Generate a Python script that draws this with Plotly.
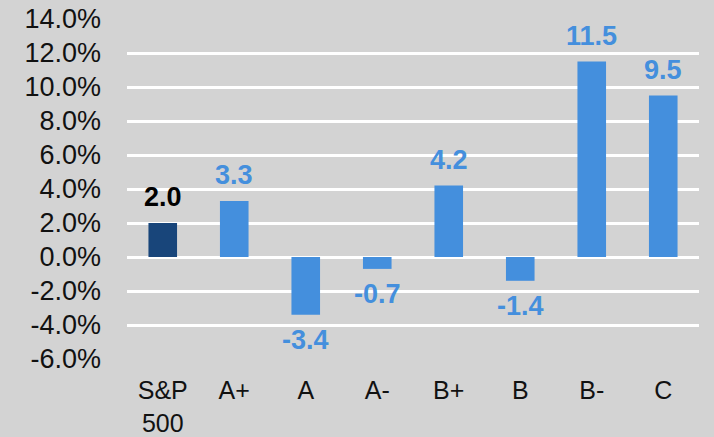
import plotly.graph_objects as go

categories = ["S&P<br>500", "A+", "A", "A-", "B+", "B", "B-", "C"]
values = [2.0, 3.3, -3.4, -0.7, 4.2, -1.4, 11.5, 9.5]
y_ticks = [-6, -4, -2, 0, 2, 4, 6, 8, 10, 12, 14]
y_tick_labels = [f"{v:.1f}%" for v in y_ticks]

DARK = "#18457a"
LIGHT = "#448fdd"
BG = "#d3d3d3"
FONT = "Liberation Sans, Arial, sans-serif"

colors = [DARK] + [LIGHT] * (len(values) - 1)
label_colors = ["#000000"] + [LIGHT] * (len(values) - 1)

fig = go.Figure()
fig.add_trace(go.Bar(
    x=categories, y=values, marker=dict(color=colors, line=dict(width=0)),
    hoverinfo="skip",
))

annotations = []
for c, v, col in zip(categories, values, label_colors):
    annotations.append(dict(
        x=c, y=v, xref="x", yref="y", text=f"{v:.1f}", showarrow=False,
        yanchor="bottom" if v >= 0 else "top",
        yshift=9 if v >= 0 else -8,
        font=dict(family=FONT, size=27, color=col, weight="bold"),
    ))

fig.update_layout(
    width=714, height=437,
    margin=dict(l=127, r=15, t=19, b=78, autoexpand=False),
    paper_bgcolor=BG, plot_bgcolor=BG,
    showlegend=False,
    bargap=0.6,
    font=dict(family=FONT, size=25, color="#111111"),
    annotations=annotations,
)
fig.update_xaxes(
    showgrid=False, showline=False, zeroline=False, ticks="",
    automargin=False, ticklabelstandoff=14,
    tickfont=dict(family=FONT, size=25, color="#111111"),
)
fig.update_yaxes(
    range=[-6, 14], tickvals=y_ticks, ticktext=y_tick_labels,
    showgrid=True, gridcolor="#ffffff", gridwidth=2.5,
    zeroline=True, zerolinecolor="#ffffff", zerolinewidth=2.5,
    showline=False, ticks="", ticklabelstandoff=25, automargin=False,
    tickfont=dict(family=FONT, size=27, color="#111111"),
)

fig.write_html(
    "out.html",
    config={"displayModeBar": False},
    post_script="document.body.style.margin='0';document.body.style.background='#d3d3d3';",
)
